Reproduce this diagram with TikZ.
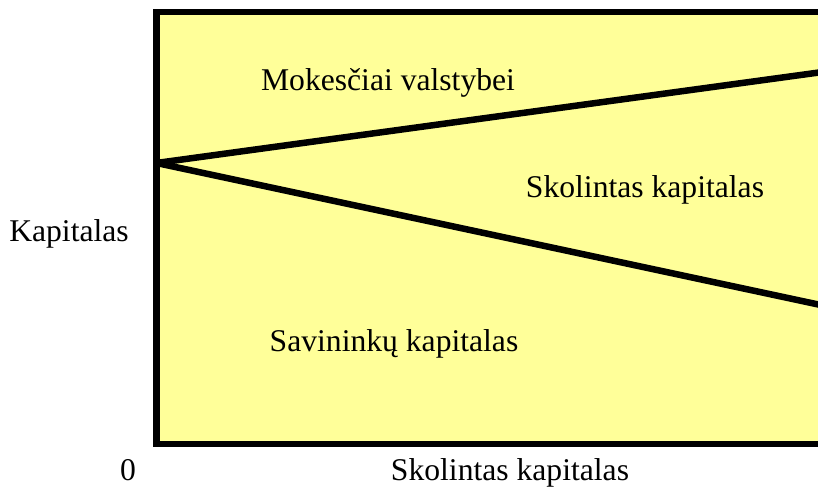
\documentclass[tikz,border=0pt]{standalone}
\usepackage{fontspec}
\setmainfont{Liberation Serif}
\definecolor{paleyellow}{HTML}{FFFF99}

\begin{document}
\begin{tikzpicture}[lbl/.style={font=\fontsize{18}{22}\selectfont,anchor=base,inner sep=0pt}]
\useasboundingbox (0,0) rectangle (16.36,9.76);
\fill[paleyellow] (3.13,0.88) rectangle (16.6,9.52);
\draw[line width=3.7pt] (16.6,9.52) -- (3.13,9.52) -- (3.13,0.88) -- (16.6,0.88);
\coordinate (o) at (3.13,6.5); \coordinate (up) at (16.6,8.34); \coordinate (lo) at (16.6,3.62);
\draw[line width=3.7pt] (o) -- (up); \draw[line width=3.7pt] (o) -- (lo);
\node[lbl] (mok) at (7.76,7.94){Mokesčiai valstybei};
\node[lbl] (skol) at (12.9,5.8){Skolintas kapitalas};
\node[lbl] (kap) at (1.38,4.92){Kapitalas};
\node[lbl] (sav) at (7.88,2.72){Savininkų kapitalas};
\node[lbl] (zero) at (2.56,0.14){0};
\node[lbl] (xlab) at (10.2,0.14){Skolintas kapitalas};
\end{tikzpicture}
\end{document}
